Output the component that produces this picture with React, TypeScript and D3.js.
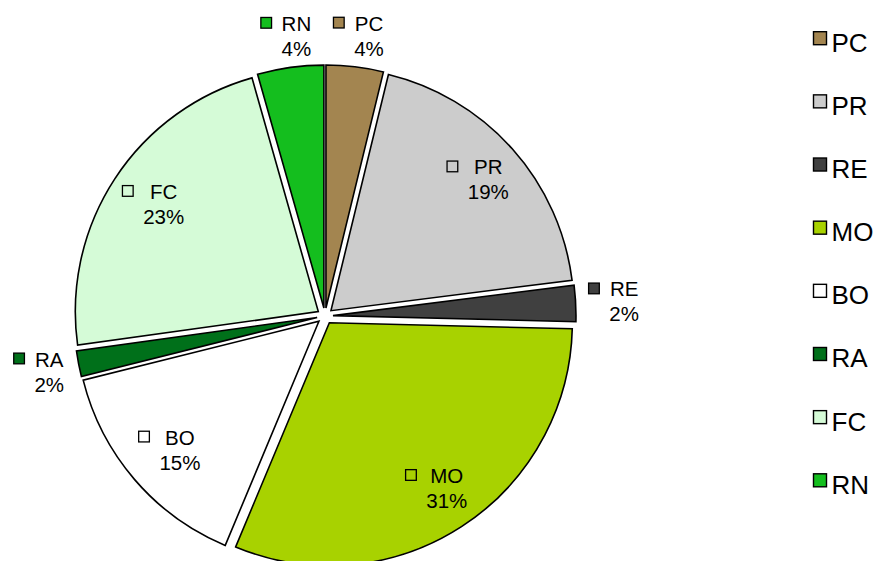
import * as d3 from 'd3';

// slice shares (%)
const CATS = ['PC', 'PR', 'RE', 'MO', 'BO', 'RA', 'FC', 'RN'];
const SHARE = [3.8, 19.2, 2.4, 30.9, 14.8, 1.7, 22.8, 4.4];
const COLORS = ['#A38550', '#CCCCCC', '#404040', '#A8D200', '#FFFFFF', '#00701A', '#D5FBD7', '#14BE1E'];

const W = 874, H = 561;
const CX = 325, CY = 316, R = 243, EXPLODE = 8;
const FONT = '"Liberation Sans", Arial, sans-serif';
const LBL_FS = 20.5, LEG_FS = 26;
const KEY = 10.7, KEY_GAP = 10;
const IN_R = 205, OUT_EDGE = 259, OUT_PAD = 4;

const ctx = document.createElement('canvas').getContext('2d')!;
const textW = (s: string, fs: number) => {
  ctx.font = `${fs}px "Liberation Sans", Arial, sans-serif`;
  return ctx.measureText(s).width;
};

export default function App() {
  const arcs = d3.pie<number>().sort(null).value(d => d)(SHARE);
  const arc = d3.arc<d3.PieArcDatum<number>>().innerRadius(0).outerRadius(R);

  const legendY = d3.scalePoint<string>().domain(CATS).range([51.7, 493.8]);

  return (
    <>
      <style>{'body{margin:0}'}</style>
      <svg width={W} height={H} style={{ display: 'block', overflow: 'hidden' }} fontFamily={FONT}>
        <rect width={W} height={H} fill="#fff" />
        <g transform={`translate(${CX},${CY})`}>
          {arcs.map((a, i) => {
            const mid = (a.startAngle + a.endAngle) / 2;
            const dx = Math.sin(mid), dy = -Math.cos(mid);
            return (
              <path
                key={CATS[i]}
                d={arc(a) ?? ''}
                transform={`translate(${dx * EXPLODE},${dy * EXPLODE})`}
                fill={COLORS[i]}
                stroke="#000"
                strokeWidth={1.6}
              />
            );
          })}

          {/* data labels: legend key + name, percentage below */}
          {arcs.map((a, i) => {
            const mid = (a.startAngle + a.endAngle) / 2;
            const dx = Math.sin(mid), dy = -Math.cos(mid);
            const name = CATS[i];
            const pct = `${Math.round(SHARE[i])}%`;
            const tw = Math.max(textW(name, LBL_FS), textW(pct, LBL_FS));
            const bw = KEY + KEY_GAP + tw;
            const outside = SHARE[i] < 5;
            const dist = outside ? OUT_EDGE + Math.abs(dx) * (bw / 2 + OUT_PAD) + Math.abs(dy) * 20 : IN_R;
            const lx = dx * dist, ly = dy * dist;
            const left = lx - bw / 2;
            const tx = left + KEY + KEY_GAP + tw / 2;
            return (
              <g key={'l-' + name}>
                <rect x={left} y={ly - 18.4} width={KEY} height={KEY} fill={COLORS[i]} stroke="#000" strokeWidth={1.3} />
                <text x={tx} y={ly - 5} textAnchor="middle" fontSize={LBL_FS} fill="#000">{name}</text>
                <text x={tx} y={ly + 20} textAnchor="middle" fontSize={LBL_FS} fill="#000">{pct}</text>
              </g>
            );
          })}
        </g>

        {/* legend */}
        {CATS.map((c, i) => {
          const y = legendY(c)!;
          return (
            <g key={'leg-' + c}>
              <rect x={813.5} y={y - 20} width={13} height={13} fill={COLORS[i]} stroke="#000" strokeWidth={1.4} />
              <text x={831.5} y={y} fontSize={LEG_FS} fill="#000">{c}</text>
            </g>
          );
        })}
      </svg>
    </>
  );
}
